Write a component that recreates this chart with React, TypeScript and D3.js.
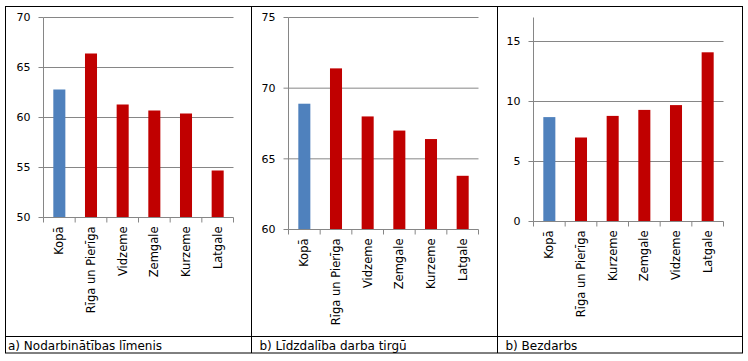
import React from "react";
import * as d3 from "d3";

const catsA = ["Kopā", "Rīga un Pierīga", "Vidzeme", "Zemgale", "Kurzeme", "Latgale"];
const valsA = [62.8, 66.4, 61.3, 60.7, 60.4, 54.7];
const ticksA = [50, 55, 60, 65, 70];

const catsB = ["Kopā", "Rīga un Pierīga", "Vidzeme", "Zemgale", "Kurzeme", "Latgale"];
const valsB = [68.9, 71.4, 68.0, 67.0, 66.4, 63.8];
const ticksB = [60, 65, 70, 75];

const catsC = ["Kopā", "Rīga un Pierīga", "Kurzeme", "Zemgale", "Vidzeme", "Latgale"];
const valsC = [8.7, 7.0, 8.8, 9.3, 9.7, 14.1];
const ticksC = [0, 5, 10, 15];

const captions = ["a) Nodarbinātības līmenis", "b) Līdzdalība darba tirgū", "b) Bezdarbs"];

const FONT = "DejaVu Sans";
const GRID = "#868686";
const BLUE = "#4F81BD";
const RED = "#C00000";

type PanelProps = {
  cats: string[];
  vals: number[];
  ticks: number[];
  domain: [number, number];
  x0: number;
  top: number;
  bottom: number;
};

function Panel({ cats, vals, ticks, domain, x0, top, bottom }: PanelProps) {
  const x = d3.scaleBand<string>().domain(cats).range([x0, x0 + 190]);
  const y = d3.scaleLinear().domain(domain).range([bottom, top]);
  const bw = x.bandwidth() * 0.38;
  const boundaries = d3.range(cats.length + 1).map((i) => x0 + i * x.step());
  return (
    <g>
      {ticks.map((t) => (
        <g key={"t" + t}>
          {t !== domain[0] && (
            <line x1={x0} x2={x0 + 190} y1={y(t)} y2={y(t)} stroke={GRID} strokeWidth={1} />
          )}
          <line x1={x0 - 5} x2={x0} y1={y(t)} y2={y(t)} stroke={GRID} strokeWidth={1} />
          <text
            x={x0 - 13}
            y={y(t)}
            dy="0.36em"
            textAnchor="end"
            fontFamily={FONT}
            fontSize={11}
            fill="#000"
          >
            {t}
          </text>
        </g>
      ))}
      {vals.map((v, i) => (
        <rect
          key={"b" + i}
          x={(x(cats[i]) as number) + x.bandwidth() / 2 - bw / 2}
          y={y(v)}
          width={bw}
          height={y(domain[0]) - y(v)}
          fill={i === 0 ? BLUE : RED}
        />
      ))}
      <line x1={x0} x2={x0} y1={top} y2={bottom} stroke={GRID} strokeWidth={1} />
      <line x1={x0} x2={x0 + 190} y1={bottom} y2={bottom} stroke={GRID} strokeWidth={1} />
      {boundaries.map((bx, i) => (
        <line key={"xt" + i} x1={bx} x2={bx} y1={bottom} y2={bottom + 5} stroke={GRID} strokeWidth={1} />
      ))}
      {cats.map((c, i) => {
        const cx = (x(c) as number) + x.bandwidth() / 2;
        const cy = bottom + 9;
        return (
          <text
            key={"c" + i}
            transform={`translate(${cx},${cy}) rotate(-90)`}
            dy="0.36em"
            textAnchor="end"
            fontFamily={FONT}
            fontSize={11.5}
            fill="#000"
          >
            {c}
          </text>
        );
      })}
    </g>
  );
}

export default function App() {
  const sepX = [5.5, 251.5, 497.5, 742.5];
  return (
    <svg
      width={748}
      height={361}
      style={{ position: "absolute", left: 0, top: 0, background: "#fff" }}
    >
      <rect x={0} y={0} width={748} height={361} fill="#fff" />
      <Panel cats={catsA} vals={valsA} ticks={ticksA} domain={[50, 70]} x0={43.5} top={17.5} bottom={217.5} />
      <Panel cats={catsB} vals={valsB} ticks={ticksB} domain={[60, 75]} x0={288.5} top={17.5} bottom={229.5} />
      <Panel cats={catsC} vals={valsC} ticks={ticksC} domain={[0, 17]} x0={533.5} top={17.5} bottom={221.5} />
      <rect x={5.5} y={6.5} width={737} height={346.5} fill="none" stroke="#000" strokeWidth={1} />
      <line x1={251.5} x2={251.5} y1={6.5} y2={353} stroke="#000" strokeWidth={1} />
      <line x1={497.5} x2={497.5} y1={6.5} y2={353} stroke="#000" strokeWidth={1} />
      <line x1={5.5} x2={742.5} y1={336.5} y2={336.5} stroke="#000" strokeWidth={1} />
      {captions.map((c, i) => (
        <text key={"cap" + i} x={sepX[i] + (i === 0 ? 2.5 : 8)} y={350} fontFamily={FONT} fontSize={12} fill="#000">
          {c}
        </text>
      ))}
    </svg>
  );
}
